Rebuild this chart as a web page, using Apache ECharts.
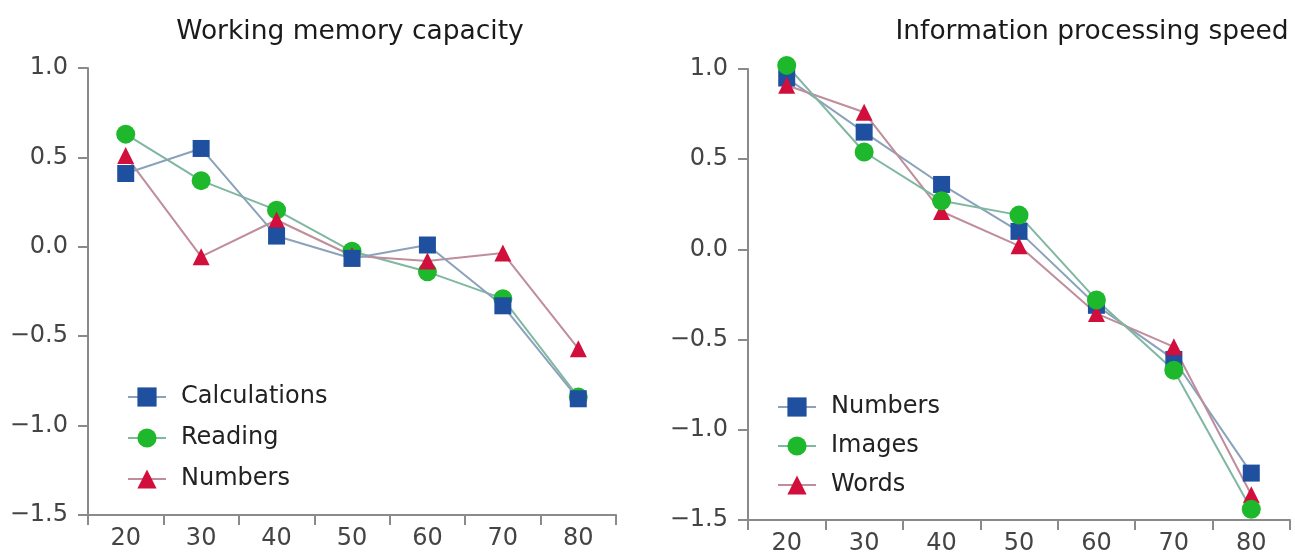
<!DOCTYPE html>
<html>
<head>
<meta charset="utf-8">
<script src="https://cdn.jsdelivr.net/npm/echarts@6/dist/echarts.min.js"></script>
<style>
html,body{margin:0;padding:0;background:#fff;}
#c{width:1295px;height:558px;}
</style>
</head>
<body>
<div id="c"></div>
<script>
// ---- data ----
var ages = ['20', '30', '40', '50', '60', '70', '80'];
var titleLeft = 'Working memory capacity';
var titleRight = 'Information processing speed';

var wmCalculations = [0.41, 0.55, 0.06, -0.065, 0.01, -0.33, -0.85];
var wmReading      = [0.63, 0.37, 0.205, -0.025, -0.14, -0.29, -0.84];
var wmNumbers      = [0.51, -0.055, 0.15, -0.05, -0.08, -0.035, -0.57];

var psNumbers = [0.95, 0.65, 0.36, 0.10, -0.31, -0.61, -1.24];
var psImages  = [1.02, 0.54, 0.27, 0.19, -0.28, -0.67, -1.44];
var psWords   = [0.91, 0.76, 0.21, 0.02, -0.355, -0.54, -1.36];

var legendLeft = ['Calculations', 'Reading', 'Numbers'];
var legendRight = ['Numbers', 'Images', 'Words'];

var yMin = -1.5, yMax = 1.0, yStep = 0.5;

// ---- styles ----
var BLUE = '#1f4f9f', GREEN = '#1db82b', RED = '#d20f3c';
var BLUE_L = '#8aa2bb', GREEN_L = '#7fb7a0', RED_L = '#bf8d9b';
var FONT = 'DejaVu Sans';
var SUFFIX = ' ';  // distinguishes right-chart series names

function fmtY(v) {
  return (v < 0 ? '\u2212' : '') + Math.abs(v).toFixed(1);
}

function xAxis(gi) {
  return {
    type: 'category', gridIndex: gi, data: ages, boundaryGap: true,
    axisLine: { onZero: false, lineStyle: { color: '#8a8a8a', width: 2 } },
    axisTick: { show: true, length: 10, lineStyle: { color: '#8a8a8a', width: 2 } },
    axisLabel: { color: '#444', fontFamily: FONT, fontSize: 24, margin: 12 },
    splitLine: { show: false }
  };
}
function yAxis(gi) {
  return {
    type: 'value', gridIndex: gi, min: yMin, max: yMax, interval: yStep,
    axisLine: { show: true, onZero: false, lineStyle: { color: '#8a8a8a', width: 2 } },
    axisTick: { show: true, length: 10, lineStyle: { color: '#8a8a8a', width: 2 } },
    axisLabel: { color: '#444', fontFamily: FONT, fontSize: 24, margin: 20, formatter: fmtY },
    splitLine: { show: false }
  };
}
function ser(name, data, gi, symbol, size, col, lcol) {
  return {
    name: name, type: 'line', xAxisIndex: gi, yAxisIndex: gi, data: data,
    symbol: symbol, symbolSize: size, showSymbol: true, clip: false,
    itemStyle: { color: col, borderWidth: 0 },
    lineStyle: { color: lcol, width: 2 },
    emphasis: { disabled: true },
    animation: false
  };
}

var chart = echarts.init(document.getElementById('c'), null, { renderer: 'canvas' });
chart.setOption({
  backgroundColor: '#fff',
  animation: false,
  title: [
    { text: titleLeft, left: 350, top: 19, padding: 0, textAlign: 'center',
      textStyle: { fontFamily: FONT, fontSize: 26.5, fontWeight: 'normal', color: '#1a1a1a' } },
    { text: titleRight, left: 1092, top: 19, padding: 0, textAlign: 'center',
      textStyle: { fontFamily: FONT, fontSize: 26.5, fontWeight: 'normal', color: '#1a1a1a' } }
  ],
  grid: [
    { left: 88, top: 68, width: 528, height: 447 },
    { left: 748, top: 69, width: 542, height: 451 }
  ],
  xAxis: [xAxis(0), xAxis(1)],
  yAxis: [yAxis(0), yAxis(1)],
  legend: [
    { data: legendLeft, orient: 'vertical', left: 127, top: 385, padding: 0,
      itemWidth: 38, itemHeight: 24, itemGap: 17, selectedMode: false,
      textStyle: { fontFamily: FONT, fontSize: 24, color: '#222', padding: [0, 0, 0, 10] } },
    { data: legendRight.map(function (n) { return n + SUFFIX; }), orient: 'vertical', left: 777, top: 395, padding: 0,
      itemWidth: 38, itemHeight: 24, itemGap: 15, selectedMode: false,
      formatter: function (n) { return n.replace(SUFFIX, ''); },
      textStyle: { fontFamily: FONT, fontSize: 24, color: '#222', padding: [0, 0, 0, 10] } }
  ],
  series: [
    ser(legendLeft[1], wmReading, 0, 'circle', 19, GREEN, GREEN_L),
    ser(legendLeft[2], wmNumbers, 0, 'triangle', 17, RED, RED_L),
    ser(legendLeft[0], wmCalculations, 0, 'rect', 17, BLUE, BLUE_L),
    ser(legendRight[0] + SUFFIX, psNumbers, 1, 'rect', 17, BLUE, BLUE_L),
    ser(legendRight[2] + SUFFIX, psWords, 1, 'triangle', 17, RED, RED_L),
    ser(legendRight[1] + SUFFIX, psImages, 1, 'circle', 19, GREEN, GREEN_L)
  ]
});
</script>
</body>
</html>
